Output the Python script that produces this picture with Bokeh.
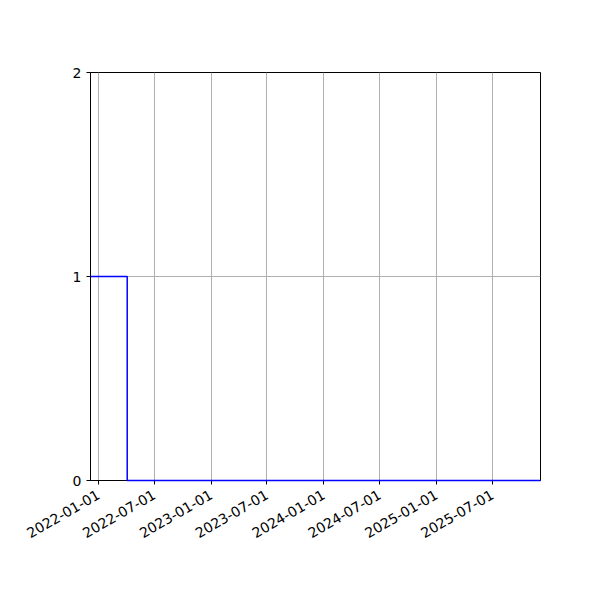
import math
from datetime import datetime
from bokeh.plotting import figure
from bokeh.models import FixedTicker, DatetimeTickFormatter, Range1d
from bokeh.embed import file_html
from bokeh.resources import INLINE

dates = [datetime(2021, 12, 6), datetime(2022, 4, 4), datetime(2025, 12, 4)]
values = [1, 0, 0]
tick_dates = [datetime(2022, 1, 1), datetime(2022, 7, 1), datetime(2023, 1, 1), datetime(2023, 7, 1),
              datetime(2024, 1, 1), datetime(2024, 7, 1), datetime(2025, 1, 1), datetime(2025, 7, 1)]
y_ticks = [0, 1, 2]

def ms(d):
    return (d - datetime(1970, 1, 1)).total_seconds() * 1000.0

p = figure(width=592, height=592, x_axis_type="datetime", output_backend="svg",
           toolbar_location=None,
           x_range=Range1d(ms(dates[0]), ms(dates[-1])), y_range=Range1d(0, 2),
           min_border_left=90, min_border_right=52, min_border_top=72, min_border_bottom=112)

p.step(x=dates, y=values, mode="after", line_color="blue", line_width=1.5, level="overlay")

p.xaxis.ticker = FixedTicker(ticks=[ms(d) for d in tick_dates])
p.xaxis.formatter = DatetimeTickFormatter(days="%Y-%m-%d", months="%Y-%m-%d", years="%Y-%m-%d")
p.xaxis.major_label_orientation = math.pi / 6
p.xaxis.major_label_standoff = 9
p.yaxis.ticker = FixedTicker(ticks=y_ticks)

for ax in (p.xaxis, p.yaxis):
    ax.major_label_text_font = "DejaVu Sans"
    ax.major_label_text_font_size = "14px"
    ax.major_label_text_color = "black"
    ax.axis_line_color = "black"
    ax.major_tick_line_color = "black"
    ax.major_tick_in = 0
    ax.major_tick_out = 4
    ax.minor_tick_line_color = None

p.grid.grid_line_color = "#b0b0b0"
p.grid.grid_line_width = 1
p.outline_line_color = "black"
p.outline_line_alpha = 1
p.background_fill_color = "white"

open("out.html", "w").write(file_html(p, INLINE))
